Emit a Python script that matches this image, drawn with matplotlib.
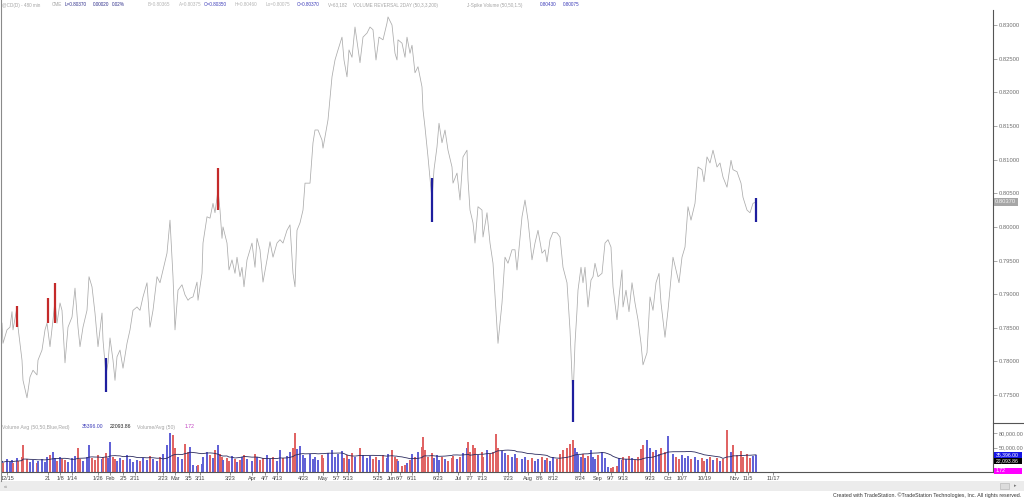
import numpy as np
import pandas as pd
import matplotlib
matplotlib.use("Agg")
import matplotlib.pyplot as plt
from matplotlib.lines import Line2D
from matplotlib.patches import Rectangle

plt.rcParams["font.family"] = ["Liberation Sans", "DejaVu Sans"]

# ---------------------------------
# DATA
# ---------------------------------

bars = [
    2, 3, 7, 10, 12, 13, 17, 18, 22, 23,
    27, 30, 33, 37, 38, 42, 45, 47, 50, 53,
    55, 57, 60, 62, 65, 68, 72, 75, 78, 80,
    83, 87, 89, 92, 95, 98, 102, 103, 106, 108,
    110, 113, 115, 117, 120, 123, 127, 130, 133, 137,
    140, 143, 147, 150, 153, 157, 160, 163, 167, 170,
    173, 175, 178, 182, 185, 188, 190, 193, 197, 198,
    202, 203, 207, 210, 213, 215, 218, 220, 222, 223,
    227, 229, 232, 235, 237, 240, 242, 244, 247, 252,
    255, 257, 260, 263, 267, 270, 273, 277, 280, 283,
    287, 290, 293, 295, 297, 300, 303, 305, 310, 313,
    315, 318, 322, 323, 328, 332, 335, 338, 342, 344,
    347, 349, 352, 355, 360, 363, 367, 370, 373, 376,
    379, 383, 387, 388, 392, 395, 397, 398, 402, 405,
    407, 410, 412, 415, 418, 422, 423, 425, 428, 432,
    434, 437, 439, 442, 445, 448, 452, 453, 457, 460,
    463, 467, 468, 470, 473, 475, 478, 482, 483, 487,
    490, 493, 496, 498, 502, 505, 508, 512, 515, 517,
    522, 525, 528, 532, 535, 538, 542, 545, 547, 550,
    553, 557, 560, 563, 567, 570, 573, 575, 577, 578,
    581, 583, 585, 588, 591, 593, 595, 598, 602, 605,
    608, 611, 613, 617, 619, 622, 623, 626, 629, 632,
    635, 638, 641, 643, 647, 650, 653, 656, 659, 661,
    665, 668, 673, 676, 679, 682, 685, 688, 691, 695,
    698, 702, 704, 707, 710, 713, 717, 720, 723, 727,
    731, 733, 737, 741, 743, 747, 750, 753, 756,
]

closes = [
    .7857, .7827, .7847, .7851, .7874, .7847, .7881, .7851, .7802, .7772,
    .7746, .7777, .7787, .7780, .7802, .7817, .7847, .7857, .7822, .7862,
    .7891, .7857, .7887, .7876, .7798, .7851, .7866, .7909, .7851, .7822,
    .7851, .7876, .7926, .7911, .7872, .7822, .7872, .7832, .7780, .7798,
    .7835, .7802, .7772, .7807, .7817, .7790, .7827, .7847, .7876, .7881,
    .7876, .7896, .7917, .7851, .7876, .7926, .7917, .7936, .7961, .8010,
    .7926, .7847, .7906, .7914, .7899, .7891, .7894, .7896, .7918, .7891,
    .7931, .7976, .8015, .8013, .8035, .8021, .8055, .8025, .7983, .8000,
    .7976, .7936, .7951, .7931, .7955, .7926, .7940, .7911, .7951, .7976,
    .7940, .7983, .7966, .7918, .7951, .7978, .7955, .7976, .7981, .7976,
    .7995, .8003, .7931, .7911, .7995, .8006, .8025, .8065, .8065, .8125,
    .8144, .8144, .8129, .8117, .8159, .8223, .8248, .8263, .8282, .8248,
    .8223, .8263, .8252, .8297, .8244, .8282, .8288, .8297, .8293, .8248,
    .8282, .8278, .8303, .8312, .8300, .8258, .8248, .8278, .8273, .8252,
    .8282, .8258, .8270, .8229, .8238, .8208, .8174, .8148, .8104, .8040,
    .8085, .8119, .8154, .8125, .8144, .8114, .8089, .8065, .8080, .8040,
    .8104, .8114, .8070, .8025, .8006, .7976, .8030, .8025, .7985, .8021,
    .7976, .7946, .7876, .7827, .7887, .7955, .7946, .7966, .7966, .7936,
    .8015, .8040, .8010, .7951, .7976, .7995, .7961, .7966, .7948, .7981,
    .7992, .7991, .7985, .7940, .7917, .7847, .7743, .7827, .7876, .7906,
    .7940, .7917, .7940, .7881, .7921, .7926, .7946, .7926, .7931, .7976,
    .7981, .7970, .7911, .7862, .7896, .7936, .7881, .7906, .7874, .7917,
    .7887, .7862, .7827, .7795, .7813, .7896, .7876, .7917, .7931, .7887,
    .7836, .7876, .7955, .7936, .7917, .7955, .7970, .8030, .8010, .8035,
    .8089, .8085, .8067, .8104, .8095, .8114, .8089, .8095, .8074, .8059,
    .8099, .8085, .8082, .8065, .8044, .8025, .8021, .8035, .8037,
]

# volume in thousands of contracts
volume_k = [
    22, 18, 26, 20, 24, 19, 28, 22, 30, 55,
    26, 20, 24, 18, 22, 26, 20, 30, 34, 40,
    28, 22, 30, 26, 24, 20, 28, 32, 50, 26,
    22, 30, 55, 28, 24, 34, 26, 30, 38, 28,
    62, 30, 26, 22, 28, 24, 34, 26, 20, 24,
    22, 28, 24, 32, 26, 22, 30, 36, 55, 80,
    76, 48, 30, 26, 58, 40, 52, 14, 12, 15,
    16, 30, 40, 34, 28, 44, 55, 36, 30, 24,
    28, 22, 32, 26, 20, 24, 30, 34, 26, 22,
    36, 30, 24, 28, 34, 26, 30, 22, 44, 28,
    32, 40, 50, 80, 46, 54, 34, 28, 36, 26,
    30, 24, 34, 28, 38, 44, 30, 36, 42, 28,
    34, 26, 38, 30, 50, 34, 28, 32, 26, 30,
    24, 34, 28, 36, 44, 30, 26, 22, 12, 14,
    18, 24, 36, 30, 40, 52, 72, 44, 30, 38,
    28, 34, 24, 30, 26, 22, 28, 32, 26, 30,
    38, 50, 62, 40, 56, 48, 34, 40, 30, 44,
    36, 40, 78, 50, 42, 38, 34, 30, 36, 28,
    26, 30, 24, 28, 22, 26, 30, 24, 28, 22,
    30, 26, 36, 44, 50, 58, 65, 48, 40, 34,
    30, 36, 28, 32, 44, 30, 26, 34, 40, 28,
    10, 8, 10, 12, 28, 24, 30, 26, 32, 28,
    24, 30, 46, 56, 65, 48, 40, 44, 36, 48,
    40, 74, 36, 30, 26, 34, 28, 32, 26, 30,
    24, 28, 22, 26, 30, 24, 28, 22, 26, 86,
    40, 55, 34, 42, 30, 36, 28, 32, 35.396,
]

# last-bar readings shown in the volume sub-graph
last_volume = 35396.00
last_vol_avg = 22093.86
last_vol_ratio = 1.72

# volume reversal signal bars (bar, high, low)
sell_bars = [17, 48, 55, 218]
sell_high = [.7882, .7894, .7917, .8088]
sell_low = [.7851, .7857, .7857, .8025]
buy_bars = [106, 432, 573, 756]
buy_high = [.7805, .8073, .7772, .8043]
buy_low = [.7755, .8007, .7710, .80075]

date_labels = [
    "12/15", "21", "1/8", "1/14", "1/26", "Feb", "2/5", "2/11", "2/23", "Mar",
    "3/5", "3/11", "3/23", "Apr", "4/7", "4/13", "4/23", "May", "5/7", "5/13",
    "5/25", "Jun", "6/7", "6/11", "6/23", "Jul", "7/7", "7/13", "7/23", "Aug",
    "8/6", "8/12", "8/24", "Sep", "9/7", "9/13", "9/23", "Oct", "10/7", "10/19",
    "Nov", "11/5", "11/17",
]
date_bars = [
    7, 48, 60, 72, 98, 110, 123, 135, 163, 175,
    189, 200, 230, 252, 265, 277, 303, 323, 337, 348,
    378, 391, 400, 412, 438, 458, 470, 482, 508, 528,
    540, 553, 580, 598, 611, 623, 650, 668, 682, 705,
    735, 748, 773,
]

# ---------------------------------
# DERIVED
# ---------------------------------

volume = np.array(volume_k) * 1000
close_arr = np.array(closes)
up = np.r_[True, np.diff(close_arr) >= 0]
vol_colors = np.where(up, "#6262d6", "#e06464")
vol_avg = pd.Series(volume).rolling(17, min_periods=1).mean().values

# ---------------------------------
# FIGURE
# ---------------------------------

W, H = 1024, 499


def fx(px):
    return px / W


def fy(py):
    return 1 - py / H


fig = plt.figure(figsize=(W / 100, H / 100), dpi=100)
ax = fig.add_axes([fx(2), fy(423), fx(991), 413 / H])
axv = fig.add_axes([fx(2), fy(472), fx(991), 49 / H])

AX_COL = "#555555"
LBL_COL = "#707070"

# price panel
ax.plot(bars, closes, color="#ababab", lw=0.55)
ax.vlines(sell_bars, sell_low, sell_high, colors="#c42a2a", lw=1.6)
ax.vlines(buy_bars, buy_low, buy_high, colors="#1e1e9e", lw=1.6)

ax.set_xlim(2, 993)
ax.set_ylim(0.77086, 0.83223)
for s in ["top", "left", "bottom"]:
    ax.spines[s].set_visible(False)
ax.spines["right"].set_color(AX_COL)
ax.spines["right"].set_linewidth(0.8)
ax.yaxis.tick_right()
yt = np.arange(0.775, 0.8301, 0.005)
ax.set_yticks(yt)
ax.set_yticklabels([f"{v:.5f}" for v in yt])
ax.tick_params(axis="y", length=3, width=0.5, color="#888888",
               labelsize=4.2, labelcolor=LBL_COL, pad=1)
ax.set_xticks([])

ax.text(1.002, closes[-1], f"{closes[-1]:.5f}",
        transform=ax.get_yaxis_transform(), ha="left", va="center",
        fontsize=4.2, color="#f4f4f4",
        bbox=dict(boxstyle="square,pad=0.25", fc="#a6a6a6", ec="none"))

# volume panel
axv.bar(bars, volume, width=1.3, color=vol_colors, linewidth=0)
axv.plot(bars, vol_avg, color="#2b2b5e", lw=0.6)
axv.set_xlim(2, 993)
axv.set_ylim(0, 100000)
for s in ["top", "left"]:
    axv.spines[s].set_visible(False)
for s in ["right", "bottom"]:
    axv.spines[s].set_color(AX_COL)
    axv.spines[s].set_linewidth(0.8)
axv.yaxis.tick_right()
axv.set_yticks([50000, 80000])
axv.set_yticklabels(["50,000.00", "80,000.00"])
axv.tick_params(axis="y", length=3, width=0.5, color="#888888",
                labelsize=4.0, labelcolor=LBL_COL, pad=1)
axv.set_xticks(date_bars)
axv.set_xticklabels(date_labels)
axv.tick_params(axis="x", length=2, width=0.5, color="#666666",
                labelsize=4.0, labelcolor="#444444", pad=1)

# value tags on the volume scale
tags = [
    (455, f"{last_volume:,.2f}", "#1414e6"),
    (461, f"{last_vol_avg:,.2f}", "#000000"),
    (471, f"{last_vol_ratio:.2f}", "#ff00ff"),
]
for py, txt, col in tags:
    fig.patches.append(Rectangle((fx(994), fy(py + 3)), fx(28), 6 / H,
                                 transform=fig.transFigure, fc=col, ec="none"))
    fig.text(fx(996), fy(py), txt, ha="left", va="center",
             fontsize=3.7, color="white")

# header line
hdr = [
    (2, "@CD(D) - 480 min", "#a4a4a4"),
    (52, "CME", "#a4a4a4"),
    (65, "L=0.80370", "#2e2e8a"),
    (93, "0.00020", "#2e2e8a"),
    (112, "0.02%", "#2e2e8a"),
    (148, "B=0.80365", "#b4b4b4"),
    (179, "A=0.80375", "#b4b4b4"),
    (204, "O=0.80350", "#3a3ab8"),
    (235, "H=0.80460", "#b4b4b4"),
    (266, "Lo=0.80075", "#b4b4b4"),
    (297, "C=0.80370", "#3a3ab8"),
    (328, "V=63,182", "#a4a4a4"),
    (353, "VOLUME REVERSAL 2DAY (50,3,3,200)", "#a4a4a4"),
    (467, "J-Spike Volume (50,50,1.5)", "#a4a4a4"),
    (540, "0.80430", "#3a3ab8"),
    (563, "0.80075", "#3a3ab8"),
]
for px, txt, col in hdr:
    fig.text(fx(px), fy(5), txt, ha="left", va="center", fontsize=3.3, color=col)

# volume header
vhdr = [
    (2, "Volume Avg (50,50,Blue,Red)", "#a4a4a4"),
    (82, f"{last_volume:.2f}", "#3a3ab8"),
    (110, f"{last_vol_avg:.2f}", "#222222"),
    (137, "Volume/Avg (50)", "#a4a4a4"),
    (185, f"{last_vol_ratio:.2f}", "#c040c0"),
]
for px, txt, col in vhdr:
    fig.text(fx(px), fy(427), txt, ha="left", va="center", fontsize=3.7, color=col)

# frame lines
fig.add_artist(Line2D([fx(993), 1], [fy(423), fy(423)], color=AX_COL, lw=0.8))
fig.add_artist(Line2D([fx(1), fx(1)], [fy(0), fy(481)], color="#8a8a8a", lw=0.8))

# scroll bar strip + footer
fig.patches.append(Rectangle((0, fy(491)), 1, 10 / H, transform=fig.transFigure,
                             fc="#ececec", ec="none"))
fig.patches.append(Rectangle((fx(1000), fy(489)), fx(9), 6 / H,
                             transform=fig.transFigure, fc="#dcdcdc", ec="#b0b0b0", lw=0.4))
fig.text(fx(4), fy(486), "\u00ab", fontsize=4, color="#777777", va="center")
fig.text(fx(1014), fy(486), "\u25b8", fontsize=3.5, color="#777777", va="center")
fig.text(fx(1021), fy(495), "Created with TradeStation. \u00a9TradeStation Technologies, Inc. All rights reserved.",
         ha="right", va="center", fontsize=3.8, color="#333333")

fig.savefig("out.png", dpi=100)
